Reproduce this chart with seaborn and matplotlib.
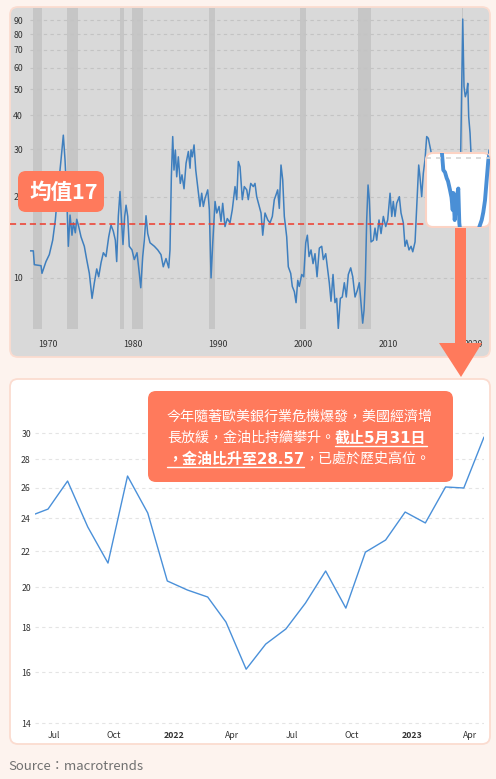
import numpy as np
import pandas as pd
import seaborn as sns
import matplotlib.pyplot as plt
import matplotlib.transforms as mtransforms
from matplotlib.patches import FancyBboxPatch, Polygon
from matplotlib.text import Annotation
from matplotlib.lines import Line2D
from matplotlib.ticker import FixedLocator, NullLocator

# Long history: gold / oil ratio (x in chart years)
top_years = [1967.88, 1968.27, 1968.39, 1969.18, 1969.29, 1969.76, 1970.15, 1970.55, 1970.86, 1971.14,
             1971.53, 1971.80, 1972.00, 1972.20, 1972.39, 1972.59, 1972.82, 1972.98, 1973.21, 1973.38,
             1973.61, 1973.88, 1974.27, 1974.55, 1974.86, 1975.18, 1975.45, 1975.73, 1975.96, 1976.24,
             1976.51, 1976.82, 1977.14, 1977.41, 1977.68, 1977.92, 1978.08, 1978.27, 1978.47, 1978.67,
             1978.82, 1979.02, 1979.18, 1979.38, 1979.56, 1979.88, 1980.15, 1980.47, 1980.74, 1980.91,
             1981.14, 1981.33, 1981.53, 1981.73, 1982.00, 1982.51, 1982.91, 1983.29, 1983.56, 1983.88,
             1984.20, 1984.35, 1984.51, 1984.67, 1984.82, 1984.98, 1985.14, 1985.33, 1985.56, 1985.76,
             1986.00, 1986.24, 1986.51, 1986.71, 1986.82, 1986.98, 1987.18, 1987.38, 1987.61, 1987.88,
             1988.08, 1988.27, 1988.47, 1988.79, 1988.98, 1989.18, 1989.38, 1989.65, 1989.85, 1990.12,
             1990.35, 1990.55, 1990.82, 1991.09, 1991.41, 1991.68, 1992.00, 1992.20, 1992.39, 1992.59,
             1992.86, 1993.09, 1993.38, 1993.56, 1993.85, 1994.15, 1994.35, 1994.55, 1994.82, 1995.06,
             1995.26, 1995.53, 1995.85, 1996.12, 1996.39, 1996.62, 1996.82, 1997.02, 1997.21, 1997.41,
             1997.61, 1997.80, 1998.08, 1998.27, 1998.55, 1998.74, 1998.98, 1999.18, 1999.38, 1999.56,
             1999.85, 2000.08, 2000.32, 2000.51, 2000.71, 2000.94, 2001.18, 2001.41, 2001.65, 2001.92,
             2002.20, 2002.39, 2002.67, 2002.91, 2003.09, 2003.29, 2003.53, 2003.76, 2003.96, 2004.15,
             2004.39, 2004.62, 2004.86, 2005.09, 2005.33, 2005.61, 2005.85, 2006.12, 2006.39, 2006.62,
             2006.82, 2007.02, 2007.18, 2007.33, 2007.49, 2007.65, 2007.80, 2008.00, 2008.27, 2008.47,
             2008.67, 2008.94, 2009.18, 2009.45, 2009.73, 2009.96, 2010.24, 2010.44, 2010.62, 2010.82,
             2011.02, 2011.33, 2011.53, 2011.80, 2012.00, 2012.20, 2012.47, 2012.71, 2012.91, 2013.18,
             2013.38, 2013.61, 2013.76, 2013.96, 2014.15, 2014.35, 2014.55, 2014.74, 2014.94, 2015.29,
             2015.76, 2016.24, 2016.71, 2017.18, 2017.65, 2018.12, 2018.55, 2018.79, 2018.94, 2019.09,
             2019.26, 2019.38, 2019.49, 2019.65, 2019.76, 2020.12, 2020.47, 2020.82, 2021.18, 2021.53,
             2021.76, 2021.88]
top_ratio = [12.6, 12.6, 11.2, 11.1, 10.4, 11.5, 12.2, 13.8, 16.4, 20.6,
             27.4, 33.8, 27.4, 20.0, 13.1, 17.1, 14.4, 16.0, 14.7, 16.5,
             15.5, 14.2, 13.1, 11.7, 10.4, 8.4, 9.6, 10.8, 10.1, 11.4,
             12.4, 12.0, 14.2, 15.7, 14.9, 13.8, 11.5, 16.9, 20.9, 15.9,
             13.3, 16.9, 18.6, 16.9, 13.1, 12.7, 11.7, 12.4, 10.4, 9.2,
             12.0, 13.8, 17.0, 14.6, 13.5, 13.1, 12.7, 12.2, 11.0, 11.8,
             10.9, 12.7, 23.7, 33.4, 25.1, 29.8, 23.7, 28.1, 22.4, 24.1,
             21.4, 26.6, 29.4, 25.5, 29.8, 28.1, 31.1, 25.1, 21.8, 18.4,
             20.6, 18.4, 19.7, 21.2, 17.9, 10.0, 13.5, 19.2, 17.4, 18.4,
             16.2, 18.9, 15.5, 16.6, 16.0, 17.9, 21.8, 19.5, 27.0, 25.8,
             19.5, 21.8, 21.2, 19.5, 22.4, 21.8, 22.4, 20.0, 18.6, 17.4,
             14.4, 17.4, 16.4, 16.0, 16.9, 19.5, 20.3, 21.2, 18.1, 26.2,
             23.1, 16.9, 14.2, 11.0, 10.4, 9.3, 8.9, 8.1, 9.8, 9.3,
             10.3, 10.1, 13.5, 14.4, 12.0, 12.7, 11.3, 12.3, 10.1, 12.9,
             13.1, 11.7, 12.3, 10.7, 9.6, 8.2, 10.3, 8.1, 8.4, 6.5,
             8.4, 8.5, 9.6, 8.5, 10.3, 10.9, 10.1, 8.5, 9.0, 9.6,
             8.1, 6.8, 7.6, 9.8, 16.4, 22.1, 19.5, 13.6, 13.8, 15.3,
             13.8, 16.4, 14.6, 16.9, 15.5, 16.4, 20.6, 16.9, 19.2, 16.9,
             18.9, 20.0, 17.4, 16.0, 13.1, 13.8, 12.7, 13.1, 12.5, 13.6,
             18.4, 26.2, 23.7, 20.0, 24.4, 27.4, 33.4, 32.9, 30.6, 27.0,
             23.0, 26.0, 21.0, 19.0, 21.0, 24.0, 29.0, 91.0, 51.2, 46.9,
             48.9, 52.6, 39.6, 34.4, 29.0, 25.0, 22.0, 19.0, 17.0, 22.0,
             26.0, 29.8]
recession_start = [1968.24, 1972.24, 1978.47, 1979.88, 1988.94, 1999.65, 2006.47, 2018.70]
recession_end = [1969.29, 1973.53, 1978.94, 1981.18, 1989.65, 2000.35, 2008.00, 2018.80]
top_yticks = [10, 20, 30, 40, 50, 60, 70, 80, 90]
top_xticks = [1970, 1980, 1990, 2000, 2010, 2020]
mean_level = 15.9
mean_label = "均值17"

# Recent two years, monthly
bottom_dates = ['2021-06-02', '2021-06-22', '2021-07-22', '2021-08-22', '2021-09-22', '2021-10-22',
                '2021-11-22', '2021-12-22', '2022-01-22', '2022-02-22', '2022-03-22', '2022-04-22',
                '2022-05-22', '2022-06-22', '2022-07-22', '2022-08-22', '2022-09-22', '2022-10-22',
                '2022-11-22', '2022-12-22', '2023-01-22', '2023-02-22', '2023-03-22', '2023-04-22']
bottom_ratio = [24.25, 24.57, 26.45, 23.44, 21.32, 26.80, 24.32, 20.34, 19.86, 19.50, 18.26, 16.13,
                17.23, 17.93, 19.19, 20.88, 18.94, 21.94, 22.65, 24.38, 23.69, 26.04, 25.97, 29.69]
bottom_yticks = [14, 16, 18, 20, 22, 24, 26, 28, 30]
bottom_xtick_dates = ['2021-07-01', '2021-10-01', '2022-01-01', '2022-04-01',
                      '2022-07-01', '2022-10-01', '2023-01-01', '2023-04-01']
bottom_xtick_labels = ['Jul', 'Oct', '2022', 'Apr', 'Jul', 'Oct', '2023', 'Apr']

# Magnifier view (two visible pieces of the line)
zoom_t_a = [15.7, 17.3, 19.0, 20.7, 22.0, 24.0, 25.5, 26.7, 27.3, 28.7, 30.7, 32.3, 33.3, 34.7]
zoom_v_a = [20.2, 18.85, 18.7, 18.3, 18.1, 17.5, 17.0, 16.15, 17.3, 15.47, 17.0, 17.6, 15.27, 14.46]
zoom_t_b = [52.7, 53.3, 55.7, 57.3, 59.0, 60.7, 62.3, 64.0]
zoom_v_b = [14.46, 15.0, 15.47, 16.0, 16.8, 18.2, 19.5, 20.2]

note_line1 = "今年隨著歐美銀行業危機爆發，美國經濟增"
note_line2a = "長放緩，金油比持續攀升。"
note_line2b = "截止5月31日"
note_line3a = "，金油比升至28.57"
note_line3b = "，已處於歷史高位。"
source_text = "Source：macrotrends"

sns.set_theme(style="white")
plt.rcParams['font.family'] = ['Noto Sans CJK TC', 'DejaVu Sans']
bold_family = ['DejaVu Sans', 'Noto Sans CJK TC']

W, H = 496, 779
fig = plt.figure(figsize=(W / 100, H / 100), dpi=100)
fig.patch.set_facecolor('#fdf3ee')
# pixel coordinates measured from the top-left corner
pix = mtransforms.Affine2D().scale(0.01, -0.01).translate(0, H / 100) + fig.dpi_scale_trans

coral = '#ff7a5c'
edge = '#fbdcd0'


def rbox(x0, y0, x1, y1, r, fc, ec, z, lw=1.3):
    p = FancyBboxPatch((x0, y0), x1 - x0, y1 - y0, boxstyle=f"round,pad=0,rounding_size={r}",
                       transform=pix, fc=fc, ec=ec, lw=lw, zorder=z)
    fig.add_artist(p)
    return p


def px_axes(x0, y0, x1, y1):
    return fig.add_axes([x0 / W, 1 - y1 / H, (x1 - x0) / W, (y1 - y0) / H])


# ---- top panel ----
rbox(10, 7, 490, 357, 8, '#d9d9d9', edge, -2)
ax1 = px_axes(30, 8, 489, 329)
ax1.set_facecolor('none')
for s, e in zip(recession_start, recession_end):
    ax1.axvspan(s, e, color='#c6c6c6', lw=0, zorder=0.3)
sns.lineplot(x=top_years, y=top_ratio, ax=ax1, color='#3f7fbe', lw=1.1, sort=False, zorder=2)
ax1.set_yscale('log')
ax1.set_ylim(6.47, 100)
ax1.set_xlim(1967.88, 2021.88)
ax1.yaxis.set_major_locator(FixedLocator(top_yticks))
ax1.yaxis.set_minor_locator(NullLocator())
ax1.set_yticklabels([str(t) for t in top_yticks])
ax1.set_xticks(top_xticks)
ax1.set_xticklabels([str(t) for t in top_xticks])
ax1.grid(False)
ax1.grid(axis='y', color='#c3c3c3', ls=(0, (3, 3)), lw=0.8)
ax1.set_axisbelow(True)
ax1.tick_params(length=0, labelsize=6.3, colors='#333333')
ax1.tick_params(axis='y', pad=5)
ax1.tick_params(axis='x', pad=8)
for sp in ax1.spines.values():
    sp.set_visible(False)
ax1.set_xlabel('')
ax1.set_ylabel('')
ax1.axhline(mean_level, xmin=-0.044, xmax=1, color='#ee3b2b', ls=(0, (4, 2.5)), lw=1.1,
            clip_on=False, zorder=2.5)

rbox(18, 171, 104, 212, 8, coral, 'none', 3)
fig.text(64, 192, mean_label, transform=pix, color='white', fontsize=15.5, fontweight='bold',
         ha='center', va='center', zorder=4)

# magnifier box and arrow
arrow = Polygon([(455, 226), (466, 226), (466, 343), (482, 343), (461, 377), (439, 343), (455, 343)],
                closed=True, transform=pix, fc=coral, ec='none', zorder=2.9)
fig.add_artist(arrow)
inset_patch = rbox(426, 153, 490, 227, 7, 'white', '#fcd3c4', 3, lw=1.5)
ax3 = px_axes(426, 153, 490, 227)
ax3.set_zorder(3.5)
ax3.set_facecolor('none')
sns.lineplot(x=zoom_t_a, y=zoom_v_a, ax=ax3, color='#4a8fd6', lw=2.8, sort=False)
sns.lineplot(x=zoom_t_b, y=zoom_v_b, ax=ax3, color='#4a8fd6', lw=2.8, sort=False)
ax3.axhline(19.66, color='#d5d5d5', ls=(0, (3, 3)), lw=1.2)
ax3.set_xlim(0, 64)
ax3.set_ylim(15, 20)
ax3.axis('off')
for ln in ax3.lines:
    ln.set_clip_path(inset_patch)

# ---- bottom panel ----
rbox(10, 379, 490, 744, 8, 'white', edge, -2)
ax2 = px_axes(35, 395, 484, 725)
ax2.set_facecolor('none')
sns.lineplot(x=pd.to_datetime(bottom_dates), y=bottom_ratio, ax=ax2, color='#4a90d9', lw=1.0)
ax2.set_yscale('log')
ax2.set_ylim(13.93, 33.16)
ax2.set_xlim(pd.Timestamp('2021-06-02'), pd.Timestamp('2023-04-22'))
ax2.yaxis.set_major_locator(FixedLocator(bottom_yticks))
ax2.yaxis.set_minor_locator(NullLocator())
ax2.set_yticklabels([str(t) for t in bottom_yticks])
ax2.set_xticks(pd.to_datetime(bottom_xtick_dates))
ax2.set_xticklabels(bottom_xtick_labels)
for lab in ax2.get_xticklabels():
    if lab.get_text() in ('2022', '2023'):
        lab.set_fontweight('bold')
ax2.grid(False)
ax2.grid(axis='y', color='#e4e4e4', ls=(0, (3, 3)), lw=0.8)
ax2.set_axisbelow(True)
ax2.tick_params(length=0, labelsize=6.3, colors='#333333')
ax2.tick_params(axis='y', pad=3)
ax2.tick_params(axis='x', pad=4)
for sp in ax2.spines.values():
    sp.set_visible(False)
ax2.set_xlabel('')
ax2.set_ylabel('')

# note box with mixed text
rbox(148, 391, 453, 482, 8, coral, 'none', 3)
txt = dict(color='white', fontsize=10.1, va='center', zorder=4)
btxt = dict(color='white', fontsize=10.8, va='center', zorder=4, fontweight='bold', family=bold_family)
fig.text(167, 417, note_line1, transform=pix, **txt)
t2a = fig.text(167, 438, note_line2a, transform=pix, **txt)
t2b = Annotation(note_line2b, xy=(1, 0.5), xycoords=t2a, ha='left', **btxt)
fig.add_artist(t2b)
t3a = fig.text(167, 459, note_line3a, transform=pix, **btxt)
t3b = Annotation(note_line3b, xy=(1, 0.5), xycoords=t3a, ha='left', **txt)
fig.add_artist(t3b)

fig.text(8, 767, source_text, transform=pix, color='#707070', fontsize=9.5, va='center')

# underline the bold pieces
fig.canvas.draw()
renderer = fig.canvas.get_renderer()
inv = pix.inverted()
for art, yline in [(t2b, 446), (t3a, 467)]:
    bb = art.get_window_extent(renderer)
    xa = inv.transform((bb.x0, bb.y0))[0]
    xb = inv.transform((bb.x1, bb.y0))[0]
    fig.add_artist(Line2D([xa, xb], [yline, yline], transform=pix, color='white', lw=1.0, zorder=4))

fig.savefig('out.png', dpi=100, facecolor=fig.get_facecolor())
